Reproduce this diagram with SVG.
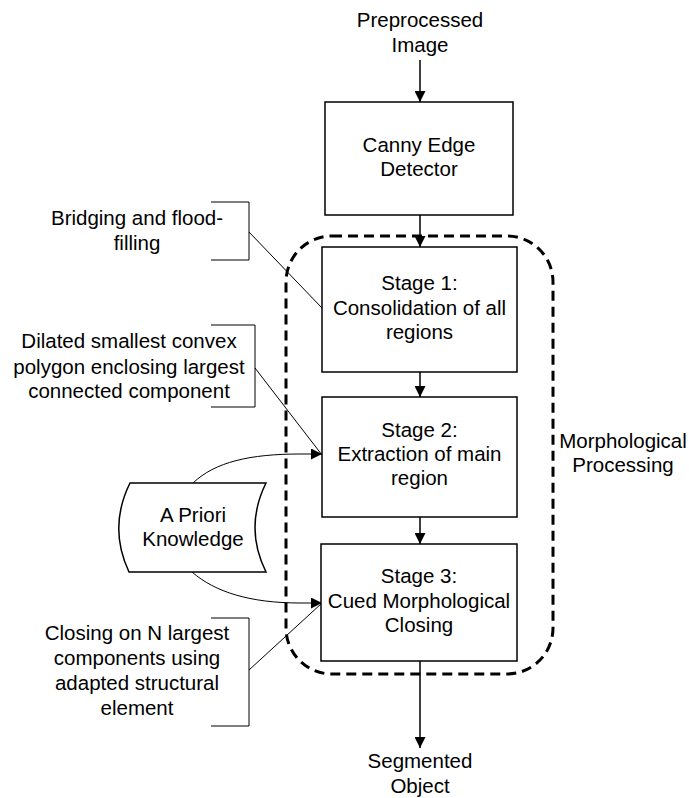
<svg xmlns="http://www.w3.org/2000/svg" width="689" height="798" viewBox="0 0 689 798">
<defs>
<marker id="ah" viewBox="0 0 10 10" refX="10" refY="5" markerWidth="11" markerHeight="11" markerUnits="userSpaceOnUse" orient="auto">
<path d="M0,0 L10,5 L0,10 Z" fill="#000"/>
</marker>
</defs>
<style>
text{font-family:"Liberation Sans",Arial,sans-serif;font-size:20.5px;fill:#000;text-anchor:middle}
.box{fill:#fff;stroke:#000;stroke-width:1.5}
.conn{fill:none;stroke:#000;stroke-width:1.5}
.thin{fill:none;stroke:#000;stroke-width:1}
.dash{fill:none;stroke:#000;stroke-width:3;stroke-dasharray:10 6}
</style>
<rect width="689" height="798" fill="#fff"/>
<g id="group-morph">
<rect class="dash" x="286" y="236" width="267" height="438" rx="46" ry="46"/>
<text x="623" y="448">Morphological</text>
<text x="623" y="472">Processing</text>
</g>
<g id="connectors">
<line class="conn" x1="420" y1="60" x2="420" y2="102" marker-end="url(#ah)"/>
<line class="conn" x1="420" y1="215" x2="420" y2="247" marker-end="url(#ah)"/>
<line class="conn" x1="420" y1="372" x2="420" y2="397" marker-end="url(#ah)"/>
<line class="conn" x1="420" y1="517" x2="420" y2="544" marker-end="url(#ah)"/>
<line class="conn" x1="420" y1="661" x2="420" y2="748" marker-end="url(#ah)"/>
<path class="thin" d="M193,483 C215,462 250,454 300,454 L322,454" marker-end="url(#ah)"/>
<path class="thin" d="M192,572 C215,592 250,603 300,603 L322,603" marker-end="url(#ah)"/>
<line class="thin" x1="249" y1="232" x2="322" y2="308"/>
<line class="thin" x1="255" y1="368" x2="322" y2="455"/>
<line class="thin" x1="249" y1="670" x2="322" y2="603"/>
</g>
<g id="input">
<text x="420" y="27">Preprocessed</text>
<text x="420" y="52">Image</text>
</g>
<g id="canny">
<rect class="box" x="325" y="102" width="188" height="113"/>
<text x="419" y="152">Canny Edge</text>
<text x="419" y="176">Detector</text>
</g>
<g id="stage1">
<rect class="box" x="322" y="247" width="195" height="125"/>
<text x="419.5" y="290">Stage 1:</text>
<text x="419.5" y="315">Consolidation of all</text>
<text x="419.5" y="339">regions</text>
</g>
<g id="stage2">
<rect class="box" x="322" y="397" width="195" height="120"/>
<text x="419.5" y="437">Stage 2:</text>
<text x="419.5" y="461">Extraction of main</text>
<text x="419.5" y="485">region</text>
</g>
<g id="stage3">
<rect class="box" x="321" y="544" width="196" height="117"/>
<text x="419" y="583">Stage 3:</text>
<text x="419" y="608">Cued Morphological</text>
<text x="419" y="632">Closing</text>
</g>
<g id="output">
<text x="420" y="768">Segmented</text>
<text x="420" y="793">Object</text>
</g>
<g id="apriori">
<path class="box" d="M130,483 L266,483 Q244,527.5 266,572 L129,572 Q108,527.5 130,483 Z"/>
<text x="193" y="522">A Priori</text>
<text x="193" y="546">Knowledge</text>
</g>
<g id="note-bridging">
<path class="thin" d="M211,202 L249,202 L249,260 L211,260"/>
<text x="137" y="225">Bridging and flood-</text>
<text x="137" y="250">filling</text>
</g>
<g id="note-dilated">
<path class="thin" d="M211,325 L255,325 L255,407 L211,407"/>
<text x="129" y="348">Dilated smallest convex</text>
<text x="129" y="374">polygon enclosing largest</text>
<text x="129" y="398">connected component</text>
</g>
<g id="note-closing">
<path class="thin" d="M211,618 L249,618 L249,726 L211,726"/>
<text x="137" y="640">Closing on N largest</text>
<text x="137" y="665">components using</text>
<text x="137" y="690">adapted structural</text>
<text x="137" y="715">element</text>
</g>
</svg>
